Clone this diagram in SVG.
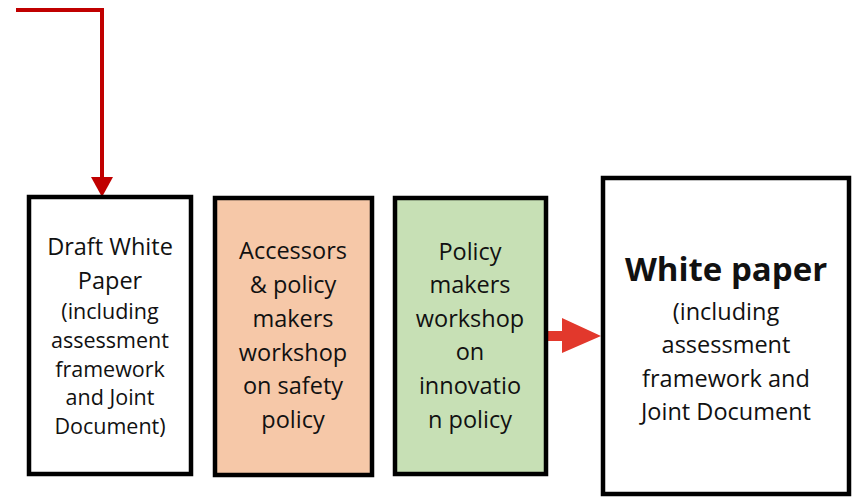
<svg xmlns="http://www.w3.org/2000/svg" width="852" height="498" viewBox="0 0 852 498">
<defs>
<style>
.box{stroke:#000;stroke-width:4.5}
.t{font-family:"Open Sans","Noto Sans",sans-serif;fill:#111;text-anchor:middle}
.l{font-size:23.5px}
.s{font-size:21.5px}
.b{font-size:33px;font-weight:bold}
</style>
</defs>
<rect width="852" height="498" fill="#fff"/>
<g id="connectors">
<path d="M16,10 H102 V180" fill="none" stroke="#C00000" stroke-width="4"/>
<path d="M91,177 L113,177 L102,197 Z" fill="#C00000"/>
<path d="M547,331 H562 V318 L601,336 L562,353 V341 H547 Z" fill="#E2382C"/>
</g>
<g id="draft">
<rect class="box" x="29" y="197" width="162" height="277" fill="#fff"/>
<text class="t l" x="110" y="255">Draft White</text>
<text class="t l" x="110" y="289">Paper</text>
<text class="t s" x="110" y="319">(including</text>
<text class="t s" x="110" y="348">assessment</text>
<text class="t s" x="110" y="377">framework</text>
<text class="t s" x="110" y="405">and Joint</text>
<text class="t s" x="110" y="434">Document)</text>
</g>
<g id="safety">
<rect class="box" x="215" y="198" width="157" height="277" fill="#F6C8A8"/>
<text class="t l" x="293" y="259">Accessors</text>
<text class="t l" x="293" y="293">&amp; policy</text>
<text class="t l" x="293" y="327">makers</text>
<text class="t l" x="293" y="361">workshop</text>
<text class="t l" x="293" y="394">on safety</text>
<text class="t l" x="293" y="428">policy</text>
</g>
<g id="innovation">
<rect class="box" x="395" y="198" width="151" height="276" fill="#C7E0B5"/>
<text class="t l" x="470" y="260">Policy</text>
<text class="t l" x="470" y="293">makers</text>
<text class="t l" x="470" y="327">workshop</text>
<text class="t l" x="470" y="360">on</text>
<text class="t l" x="470" y="394">innovatio</text>
<text class="t l" x="470" y="428">n policy</text>
</g>
<g id="white">
<rect class="box" x="603" y="178" width="246" height="316" fill="#fff"/>
<text class="t b" x="726" y="281">White paper</text>
<text class="t l" x="726" y="320">(including</text>
<text class="t l" x="726" y="353">assessment</text>
<text class="t l" x="726" y="387">framework and</text>
<text class="t l" x="726" y="420">Joint Document</text>
</g>
</svg>
